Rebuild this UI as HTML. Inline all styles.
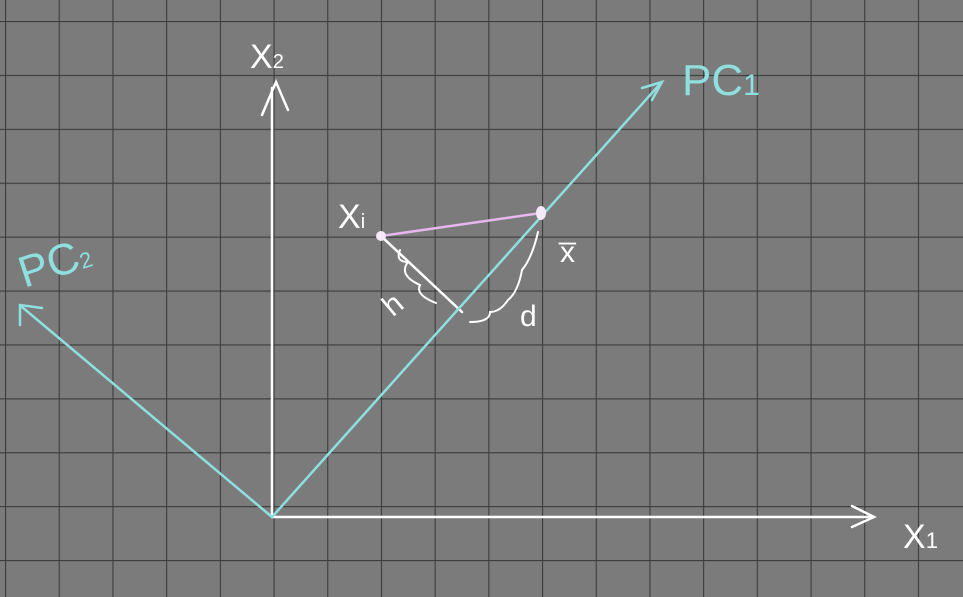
<!DOCTYPE html>
<html><head><meta charset="utf-8"><style>
html,body{margin:0;padding:0;background:#7b7b7b;}
svg{display:block}
text{font-family:"Liberation Sans",sans-serif;}
</style></head><body>
<svg width="963" height="597" viewBox="0 0 963 597">
<defs>
<pattern id="g" x="5" y="21" width="53.7" height="53.9" patternUnits="userSpaceOnUse">
<path d="M0 0V53.9M0 0H53.7" stroke="#3c3c3c" stroke-width="2.2" fill="none"/>
</pattern>
</defs>
<rect width="963" height="597" fill="#7b7b7b"/>
<rect width="963" height="597" fill="url(#g)"/>
<g stroke="#ffffff" stroke-width="2.5" fill="none" stroke-linecap="round">
<path d="M272 517H872"/>
<path d="M852 506L874 517L852 527"/>
<path d="M272 517V88"/>
<path d="M262 115L276 82L288 110"/>
<path d="M381 236L462 312"/>
<path d="M400 250Q395 262 408 262Q398 275 420 285Q415 295 436 303" stroke-width="2"/>
<path d="M470 322Q490 322 490 312Q500 312 508 300Q518 292 522 270Q532 258 538 232" stroke-width="2"/>
</g>
<g stroke="#8fdfdf" stroke-width="2.5" fill="none" stroke-linecap="round">
<path d="M272 517L660 84"/>
<path d="M642 88L662 82L652 100"/>
<path d="M272 517L22 307"/>
<path d="M20 325L20 305L42 308"/>
</g>
<path d="M381 236L541 213" stroke="#e6b8ee" stroke-width="2.5"/>
<ellipse cx="381" cy="236" rx="5" ry="5" fill="#f5e8f8"/>
<ellipse cx="541" cy="213" rx="5" ry="7" fill="#f5e8f8"/>
<g fill="#ffffff" font-size="34">
<text x="250" y="68">X<tspan font-size="20">2</tspan></text>
<text x="903" y="548">X<tspan font-size="22">1</tspan></text>
<text x="338" y="228">X<tspan font-size="20">i</tspan></text>
<text x="560" y="262" font-size="30">x̅</text>
<text x="382" y="312" font-size="30" transform="rotate(-40 395 300)">h</text>
<text x="520" y="326" font-size="30">d</text>
</g>
<g fill="#8fdfdf" font-size="44">
<text x="682" y="95">PC<tspan font-size="30">1</tspan></text>
<text x="18" y="282" transform="rotate(-18 40 265)">PC<tspan font-size="22">2</tspan></text>
</g>
</svg>
</body></html>
